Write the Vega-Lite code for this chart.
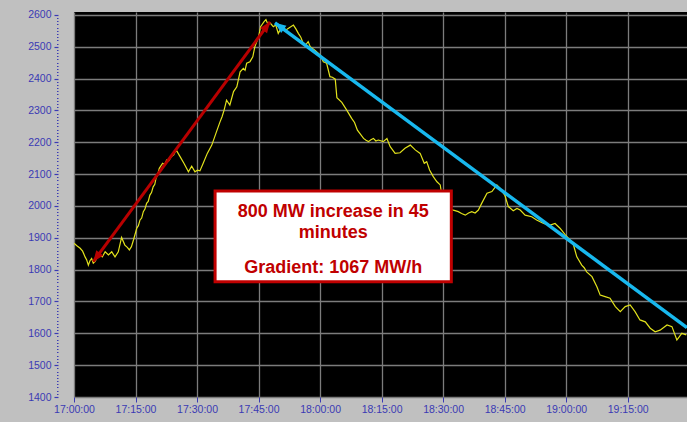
{
  "$schema": "https://vega.github.io/schema/vega-lite/v6.json",
  "width": 613,
  "height": 385,
  "autosize": {"type": "none"},
  "padding": {"left": 74, "top": 12, "right": 0, "bottom": 25},
  "background": "#c0c0c0",
  "config": {
    "view": {"fill": "#000000", "stroke": null},
    "axis": {"labelFont": "Liberation Sans", "labelFontSize": 10.5, "labelColor": "#3a3ab4", "tickColor": "#3a3ab4", "domain": false, "title": null}
  },
  "datasets": {
    "load": [
      {"t": "2020-01-01T17:00:00", "mw": 1883},
      {"t": "2020-01-01T17:00:42", "mw": 1875},
      {"t": "2020-01-01T17:01:30", "mw": 1867},
      {"t": "2020-01-01T17:02:06", "mw": 1858},
      {"t": "2020-01-01T17:02:42", "mw": 1840},
      {"t": "2020-01-01T17:03:06", "mw": 1830},
      {"t": "2020-01-01T17:03:30", "mw": 1814},
      {"t": "2020-01-01T17:03:54", "mw": 1828},
      {"t": "2020-01-01T17:04:18", "mw": 1835},
      {"t": "2020-01-01T17:04:42", "mw": 1820},
      {"t": "2020-01-01T17:05:06", "mw": 1825},
      {"t": "2020-01-01T17:05:42", "mw": 1838},
      {"t": "2020-01-01T17:06:18", "mw": 1846},
      {"t": "2020-01-01T17:06:54", "mw": 1840},
      {"t": "2020-01-01T17:07:36", "mw": 1856},
      {"t": "2020-01-01T17:08:24", "mw": 1846},
      {"t": "2020-01-01T17:09:12", "mw": 1856},
      {"t": "2020-01-01T17:09:36", "mw": 1848},
      {"t": "2020-01-01T17:10:00", "mw": 1840},
      {"t": "2020-01-01T17:10:48", "mw": 1856},
      {"t": "2020-01-01T17:11:36", "mw": 1901},
      {"t": "2020-01-01T17:12:24", "mw": 1877},
      {"t": "2020-01-01T17:13:00", "mw": 1870},
      {"t": "2020-01-01T17:13:30", "mw": 1862},
      {"t": "2020-01-01T17:14:00", "mw": 1872},
      {"t": "2020-01-01T17:14:30", "mw": 1893},
      {"t": "2020-01-01T17:15:18", "mw": 1930},
      {"t": "2020-01-01T17:15:42", "mw": 1938},
      {"t": "2020-01-01T17:16:06", "mw": 1956},
      {"t": "2020-01-01T17:16:30", "mw": 1962},
      {"t": "2020-01-01T17:16:54", "mw": 1982},
      {"t": "2020-01-01T17:17:18", "mw": 1990},
      {"t": "2020-01-01T17:17:42", "mw": 2008},
      {"t": "2020-01-01T17:18:06", "mw": 2014},
      {"t": "2020-01-01T17:18:30", "mw": 2034},
      {"t": "2020-01-01T17:18:54", "mw": 2042},
      {"t": "2020-01-01T17:19:18", "mw": 2060},
      {"t": "2020-01-01T17:19:42", "mw": 2068},
      {"t": "2020-01-01T17:20:00", "mw": 2087},
      {"t": "2020-01-01T17:20:24", "mw": 2098},
      {"t": "2020-01-01T17:20:48", "mw": 2118},
      {"t": "2020-01-01T17:21:36", "mw": 2134},
      {"t": "2020-01-01T17:22:06", "mw": 2130},
      {"t": "2020-01-01T17:22:36", "mw": 2144},
      {"t": "2020-01-01T17:23:06", "mw": 2142},
      {"t": "2020-01-01T17:23:42", "mw": 2154},
      {"t": "2020-01-01T17:24:18", "mw": 2160},
      {"t": "2020-01-01T17:24:54", "mw": 2176},
      {"t": "2020-01-01T17:25:54", "mw": 2154},
      {"t": "2020-01-01T17:26:48", "mw": 2134},
      {"t": "2020-01-01T17:27:54", "mw": 2107},
      {"t": "2020-01-01T17:28:42", "mw": 2125},
      {"t": "2020-01-01T17:29:30", "mw": 2107},
      {"t": "2020-01-01T17:30:06", "mw": 2112},
      {"t": "2020-01-01T17:30:42", "mw": 2110},
      {"t": "2020-01-01T17:31:30", "mw": 2134},
      {"t": "2020-01-01T17:32:30", "mw": 2165},
      {"t": "2020-01-01T17:33:36", "mw": 2191},
      {"t": "2020-01-01T17:34:36", "mw": 2228},
      {"t": "2020-01-01T17:35:36", "mw": 2264},
      {"t": "2020-01-01T17:36:06", "mw": 2280},
      {"t": "2020-01-01T17:36:36", "mw": 2301},
      {"t": "2020-01-01T17:37:12", "mw": 2332},
      {"t": "2020-01-01T17:38:00", "mw": 2317},
      {"t": "2020-01-01T17:38:54", "mw": 2359},
      {"t": "2020-01-01T17:39:42", "mw": 2374},
      {"t": "2020-01-01T17:40:30", "mw": 2421},
      {"t": "2020-01-01T17:41:18", "mw": 2432},
      {"t": "2020-01-01T17:41:42", "mw": 2426},
      {"t": "2020-01-01T17:42:06", "mw": 2448},
      {"t": "2020-01-01T17:42:54", "mw": 2453},
      {"t": "2020-01-01T17:43:36", "mw": 2468},
      {"t": "2020-01-01T17:44:06", "mw": 2500},
      {"t": "2020-01-01T17:45:00", "mw": 2531},
      {"t": "2020-01-01T17:45:30", "mw": 2563},
      {"t": "2020-01-01T17:46:18", "mw": 2578},
      {"t": "2020-01-01T17:46:48", "mw": 2585},
      {"t": "2020-01-01T17:47:18", "mw": 2570},
      {"t": "2020-01-01T17:47:48", "mw": 2575},
      {"t": "2020-01-01T17:48:36", "mw": 2563},
      {"t": "2020-01-01T17:49:12", "mw": 2568},
      {"t": "2020-01-01T17:49:48", "mw": 2542},
      {"t": "2020-01-01T17:50:24", "mw": 2556},
      {"t": "2020-01-01T17:51:00", "mw": 2563},
      {"t": "2020-01-01T17:51:36", "mw": 2552},
      {"t": "2020-01-01T17:52:18", "mw": 2558},
      {"t": "2020-01-01T17:53:30", "mw": 2568},
      {"t": "2020-01-01T17:54:06", "mw": 2556},
      {"t": "2020-01-01T17:54:42", "mw": 2542},
      {"t": "2020-01-01T17:55:18", "mw": 2530},
      {"t": "2020-01-01T17:55:54", "mw": 2510},
      {"t": "2020-01-01T17:56:30", "mw": 2506},
      {"t": "2020-01-01T17:57:06", "mw": 2516},
      {"t": "2020-01-01T17:57:36", "mw": 2500},
      {"t": "2020-01-01T17:58:48", "mw": 2488},
      {"t": "2020-01-01T18:00:00", "mw": 2474},
      {"t": "2020-01-01T18:00:48", "mw": 2453},
      {"t": "2020-01-01T18:01:36", "mw": 2448},
      {"t": "2020-01-01T18:02:24", "mw": 2406},
      {"t": "2020-01-01T18:03:00", "mw": 2404},
      {"t": "2020-01-01T18:03:42", "mw": 2398},
      {"t": "2020-01-01T18:04:06", "mw": 2340},
      {"t": "2020-01-01T18:05:18", "mw": 2325},
      {"t": "2020-01-01T18:06:30", "mw": 2301},
      {"t": "2020-01-01T18:07:42", "mw": 2275},
      {"t": "2020-01-01T18:08:24", "mw": 2262},
      {"t": "2020-01-01T18:09:06", "mw": 2238},
      {"t": "2020-01-01T18:10:36", "mw": 2212},
      {"t": "2020-01-01T18:11:12", "mw": 2206},
      {"t": "2020-01-01T18:11:48", "mw": 2202},
      {"t": "2020-01-01T18:12:24", "mw": 2208},
      {"t": "2020-01-01T18:13:00", "mw": 2212},
      {"t": "2020-01-01T18:13:36", "mw": 2204},
      {"t": "2020-01-01T18:14:12", "mw": 2207},
      {"t": "2020-01-01T18:15:24", "mw": 2202},
      {"t": "2020-01-01T18:16:18", "mw": 2212},
      {"t": "2020-01-01T18:17:06", "mw": 2186},
      {"t": "2020-01-01T18:18:18", "mw": 2165},
      {"t": "2020-01-01T18:19:30", "mw": 2167},
      {"t": "2020-01-01T18:20:42", "mw": 2181},
      {"t": "2020-01-01T18:22:00", "mw": 2191},
      {"t": "2020-01-01T18:23:12", "mw": 2176},
      {"t": "2020-01-01T18:24:24", "mw": 2165},
      {"t": "2020-01-01T18:25:24", "mw": 2134},
      {"t": "2020-01-01T18:26:00", "mw": 2139},
      {"t": "2020-01-01T18:26:42", "mw": 2113},
      {"t": "2020-01-01T18:27:36", "mw": 2092},
      {"t": "2020-01-01T18:28:30", "mw": 2076},
      {"t": "2020-01-01T18:29:18", "mw": 2066},
      {"t": "2020-01-01T18:30:06", "mw": 1998},
      {"t": "2020-01-01T18:32:30", "mw": 1987},
      {"t": "2020-01-01T18:33:42", "mw": 1982},
      {"t": "2020-01-01T18:34:30", "mw": 1976},
      {"t": "2020-01-01T18:35:24", "mw": 1971},
      {"t": "2020-01-01T18:36:12", "mw": 1978},
      {"t": "2020-01-01T18:37:00", "mw": 1982},
      {"t": "2020-01-01T18:37:48", "mw": 1978},
      {"t": "2020-01-01T18:38:36", "mw": 1987},
      {"t": "2020-01-01T18:39:24", "mw": 2008},
      {"t": "2020-01-01T18:40:42", "mw": 2040},
      {"t": "2020-01-01T18:41:54", "mw": 2045},
      {"t": "2020-01-01T18:43:06", "mw": 2066},
      {"t": "2020-01-01T18:43:54", "mw": 2055},
      {"t": "2020-01-01T18:45:06", "mw": 2032},
      {"t": "2020-01-01T18:45:54", "mw": 1998},
      {"t": "2020-01-01T18:47:06", "mw": 1985},
      {"t": "2020-01-01T18:48:00", "mw": 1992},
      {"t": "2020-01-01T18:48:48", "mw": 1987},
      {"t": "2020-01-01T18:50:00", "mw": 1971},
      {"t": "2020-01-01T18:51:36", "mw": 1966},
      {"t": "2020-01-01T18:52:48", "mw": 1956},
      {"t": "2020-01-01T18:54:30", "mw": 1945},
      {"t": "2020-01-01T18:56:06", "mw": 1940},
      {"t": "2020-01-01T18:57:18", "mw": 1945},
      {"t": "2020-01-01T18:58:30", "mw": 1930},
      {"t": "2020-01-01T18:59:48", "mw": 1909},
      {"t": "2020-01-01T19:01:00", "mw": 1893},
      {"t": "2020-01-01T19:01:48", "mw": 1877},
      {"t": "2020-01-01T19:02:36", "mw": 1840},
      {"t": "2020-01-01T19:03:48", "mw": 1814},
      {"t": "2020-01-01T19:04:24", "mw": 1806},
      {"t": "2020-01-01T19:05:00", "mw": 1793},
      {"t": "2020-01-01T19:06:18", "mw": 1778},
      {"t": "2020-01-01T19:07:30", "mw": 1746},
      {"t": "2020-01-01T19:08:18", "mw": 1720},
      {"t": "2020-01-01T19:09:30", "mw": 1715},
      {"t": "2020-01-01T19:10:42", "mw": 1710},
      {"t": "2020-01-01T19:12:00", "mw": 1684},
      {"t": "2020-01-01T19:13:12", "mw": 1668},
      {"t": "2020-01-01T19:14:24", "mw": 1684},
      {"t": "2020-01-01T19:15:36", "mw": 1689},
      {"t": "2020-01-01T19:16:48", "mw": 1668},
      {"t": "2020-01-01T19:18:00", "mw": 1642},
      {"t": "2020-01-01T19:19:18", "mw": 1636},
      {"t": "2020-01-01T19:20:30", "mw": 1616},
      {"t": "2020-01-01T19:21:42", "mw": 1605},
      {"t": "2020-01-01T19:22:54", "mw": 1610},
      {"t": "2020-01-01T19:24:36", "mw": 1626},
      {"t": "2020-01-01T19:25:48", "mw": 1621},
      {"t": "2020-01-01T19:27:00", "mw": 1579},
      {"t": "2020-01-01T19:28:12", "mw": 1600},
      {"t": "2020-01-01T19:29:18", "mw": 1595}
    ]
  },
  "layer": [
    {
      "data": {"name": "load"},
      "mark": {"type": "line", "color": "#e2e21c", "strokeWidth": 1.2, "clip": true},
      "encoding": {
        "x": {
          "field": "t", "type": "temporal",
          "scale": {"domain": [{"year": 2020, "month": 1, "date": 1, "hours": 17, "minutes": 0}, {"year": 2020, "month": 1, "date": 1, "hours": 19, "minutes": 29, "seconds": 28}]},
          "axis": {
            "title": null, "format": "%H:%M:%S", "tickCount": 40,
            "values": [
              {"year": 2020, "month": 1, "date": 1, "hours": 17, "minutes": 0},
              {"year": 2020, "month": 1, "date": 1, "hours": 17, "minutes": 15},
              {"year": 2020, "month": 1, "date": 1, "hours": 17, "minutes": 30},
              {"year": 2020, "month": 1, "date": 1, "hours": 17, "minutes": 45},
              {"year": 2020, "month": 1, "date": 1, "hours": 18, "minutes": 0},
              {"year": 2020, "month": 1, "date": 1, "hours": 18, "minutes": 15},
              {"year": 2020, "month": 1, "date": 1, "hours": 18, "minutes": 30},
              {"year": 2020, "month": 1, "date": 1, "hours": 18, "minutes": 45},
              {"year": 2020, "month": 1, "date": 1, "hours": 19, "minutes": 0},
              {"year": 2020, "month": 1, "date": 1, "hours": 19, "minutes": 15}
            ],
            "grid": true, "gridColor": "#7c7c7c", "gridWidth": 1.3,
            "tickSize": 5, "tickWidth": 1, "labelPadding": 2,
            "labelFlush": false, "labelOverlap": false, "labelBound": false
          }
        },
        "y": {
          "field": "mw", "type": "quantitative",
          "scale": {"domain": [1400, 2609], "nice": false, "zero": false},
          "axis": {
            "title": null, "format": "d", "offset": 16, "tickCount": 400,
            "values": [1400,1410,1420,1430,1440,1450,1460,1470,1480,1490,1500,1510,1520,1530,1540,1550,1560,1570,1580,1590,1600,1610,1620,1630,1640,1650,1660,1670,1680,1690,1700,1710,1720,1730,1740,1750,1760,1770,1780,1790,1800,1810,1820,1830,1840,1850,1860,1870,1880,1890,1900,1910,1920,1930,1940,1950,1960,1970,1980,1990,2000,2010,2020,2030,2040,2050,2060,2070,2080,2090,2100,2110,2120,2130,2140,2150,2160,2170,2180,2190,2200,2210,2220,2230,2240,2250,2260,2270,2280,2290,2300,2310,2320,2330,2340,2350,2360,2370,2380,2390,2400,2410,2420,2430,2440,2450,2460,2470,2480,2490,2500,2510,2520,2530,2540,2550,2560,2570,2580,2590,2600],
            "labelExpr": "datum.value % 100 === 0 ? datum.label : ''",
            "grid": true, "gridColor": "#7c7c7c", "gridWidth": 1.3,
            "gridOpacity": {"condition": {"test": "datum.value % 100 === 0", "value": 1}, "value": 0},
            "tickSize": {"condition": {"test": "datum.value % 100 === 0", "value": 4}, "value": 1.5},
            "tickWidth": {"condition": {"test": "datum.value % 100 === 0", "value": 1.2}, "value": 1},
            "labelPadding": 3, "labelOverlap": false, "labelBound": false, "labelFlush": false
          }
        }
      }
    },
    {
      "data": {"values": [{"t": "2020-01-01T17:04:42", "mw": 1825}, {"t": "2020-01-01T17:47:48", "mw": 2578}]},
      "mark": {"type": "line", "color": "#b80000", "strokeWidth": 3},
      "encoding": {"x": {"field": "t", "type": "temporal"}, "y": {"field": "mw", "type": "quantitative"}}
    },
    {
      "data": {"values": [{"t": "2020-01-01T17:47:48", "mw": 2578}]},
      "mark": {"type": "point", "shape": "M0,0L-0.8,2L0.8,2Z", "filled": true, "opacity": 1, "size": 121, "color": "#b80000", "angle": 36.4},
      "encoding": {"x": {"field": "t", "type": "temporal"}, "y": {"field": "mw", "type": "quantitative"}}
    },
    {
      "data": {"values": [{"t": "2020-01-01T17:04:42", "mw": 1825}]},
      "mark": {"type": "point", "shape": "M0,0L-0.8,2L0.8,2Z", "filled": true, "opacity": 1, "size": 121, "color": "#b80000", "angle": 216.4},
      "encoding": {"x": {"field": "t", "type": "temporal"}, "y": {"field": "mw", "type": "quantitative"}}
    },
    {
      "data": {"values": [{"t": "2020-01-01T17:49:00", "mw": 2575}, {"t": "2020-01-01T19:29:28", "mw": 1618}]},
      "mark": {"type": "line", "color": "#18b8ee", "strokeWidth": 3.5, "clip": true},
      "encoding": {"x": {"field": "t", "type": "temporal"}, "y": {"field": "mw", "type": "quantitative"}}
    },
    {
      "data": {"values": [{"t": "2020-01-01T17:49:00", "mw": 2575}]},
      "mark": {"type": "point", "shape": "M0,0L-0.8,2L0.8,2Z", "filled": true, "opacity": 1, "size": 121, "color": "#18b8ee", "angle": 306.5},
      "encoding": {"x": {"field": "t", "type": "temporal"}, "y": {"field": "mw", "type": "quantitative"}}
    },
    {
      "data": {"values": [{"t": "2020-01-01T17:34:24", "t2": "2020-01-01T18:32:00", "mw": 2047, "mw2": 1762}]},
      "mark": {"type": "rect", "fill": "#ffffff", "stroke": "#c00000", "strokeWidth": 3},
      "encoding": {
        "x": {"field": "t", "type": "temporal"}, "x2": {"field": "t2"},
        "y": {"field": "mw", "type": "quantitative"}, "y2": {"field": "mw2"}
      }
    },
    {
      "data": {"values": [
        {"t": "2020-01-01T18:03:12", "mw": 1964, "label": "800 MW increase in 45"},
        {"t": "2020-01-01T18:03:12", "mw": 1898, "label": "minutes"},
        {"t": "2020-01-01T18:03:12", "mw": 1788, "label": "Gradient: 1067 MW/h"}
      ]},
      "mark": {"type": "text", "font": "Liberation Sans", "fontSize": 18, "fontWeight": "bold", "color": "#c00000", "align": "center", "baseline": "alphabetic"},
      "encoding": {
        "x": {"field": "t", "type": "temporal"},
        "y": {"field": "mw", "type": "quantitative"},
        "text": {"field": "label"}
      }
    }
  ]
}
